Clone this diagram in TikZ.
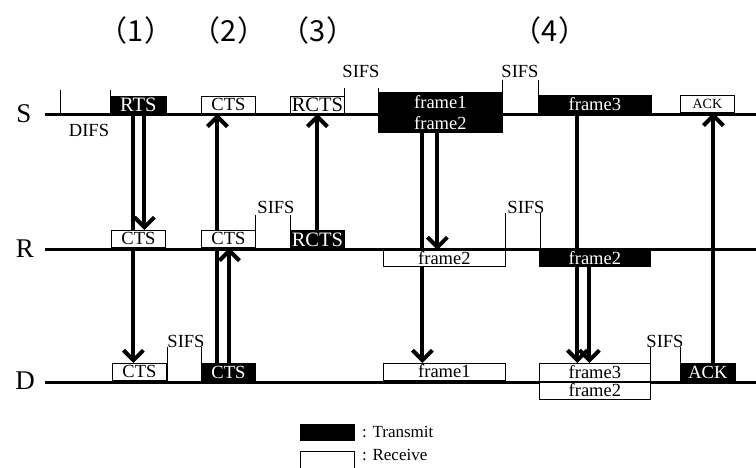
\documentclass[tikz,border=0pt]{standalone}
\usepackage{fontspec}
\setmainfont{Liberation Serif}
\newfontfamily\jpfont{Noto Sans CJK JP}
\usetikzlibrary{arrows.meta,backgrounds}
\begin{document}
\begin{tikzpicture}[x=1pt,y=-1pt,
  lane/.style={line width=3pt},
  tick/.style={line width=0.8pt},
  arr/.style={line width=4pt,-{Straight Barb[length=10pt,width=20pt]}},
  boxbase/.style={draw=black,line width=0.8pt,inner sep=0pt,anchor=north west,
    font=\fontsize{18.5}{18.5}\selectfont,text height=12pt,text depth=0pt},
  tx/.style={boxbase,fill=black,text=white},
  rx/.style={boxbase,fill=white,text=black},
  wide/.style={font=\fontsize{20.5}{20.5}\selectfont,text height=13pt},
  lbl/.style={font=\fontsize{18.5}{18.5}\selectfont,inner sep=0pt},
  leg/.style={font=\fontsize{17}{17}\selectfont,inner sep=0pt,anchor=west},
  big/.style={font=\fontsize{27}{27}\selectfont,inner sep=0pt},
  ttl/.style={font=\jpfont\fontsize{29}{29}\selectfont,inner sep=0pt}
]
\useasboundingbox (0,0) rectangle (756,467);

% titles
\node[ttl] (t1) at (136,30) {（1）};
\node[ttl] (t2) at (229,30) {（2）};
\node[ttl] (t3) at (318,30) {（3）};
\node[ttl] (t4) at (550,30) {（4）};

% lane labels
\node[big] (labS) at (24,114) {S};
\node[big] (labR) at (25,249) {R};
\node[big] (labD) at (25,381) {D};

% S boxes
\node[tx,wide,minimum width=56pt,minimum height=18pt] (rtsS) at (110,96) {RTS};
\node[rx,minimum width=54pt,minimum height=17pt] (ctsS) at (201,96) {CTS};
\node[rx,wide,minimum width=54pt,minimum height=17pt] (rctsS) at (290,96) {RCTS};
\node[tx,minimum width=124pt,minimum height=21pt] (f1S) at (378,92) {frame1};
\node[tx,minimum width=124pt,minimum height=18pt] (f2S) at (378,114) {frame2};
\node[tx,minimum width=113pt,minimum height=19pt] (f3S) at (538,95) {frame3};
\node[rx,minimum width=54pt,minimum height=17pt,font=\fontsize{14}{14}\selectfont,text height=9.5pt] (ackS) at (680,95) {ACK};

% R boxes
\node[rx,minimum width=54pt,minimum height=17pt] (ctsR1) at (111,230) {CTS};
\node[rx,minimum width=54pt,minimum height=17pt] (ctsR2) at (201,230) {CTS};
\node[tx,wide,minimum width=54pt,minimum height=19pt] (rctsR) at (290,230) {RCTS};
\node[rx,minimum width=122pt,minimum height=16pt] (f2Rw) at (383,250) {frame2};
\node[tx,minimum width=111pt,minimum height=16pt] (f2Rb) at (539,250) {frame2};

% D boxes
\node[rx,minimum width=54pt,minimum height=17pt] (ctsD1) at (112,363) {CTS};
\node[tx,minimum width=54pt,minimum height=19pt] (ctsD2) at (201,363) {CTS};
\node[rx,minimum width=122pt,minimum height=17pt] (f1D) at (383,363) {frame1};
\node[rx,minimum width=111pt,minimum height=18pt] (f3D) at (539,363) {frame3};
\node[rx,minimum width=111pt,minimum height=17pt] (f2D) at (539,382) {frame2};
\node[tx,minimum width=55pt,minimum height=19pt] (ackD) at (680,363) {ACK};

% interval ticks
\draw[tick] (60,90) -- (60,114) (110,90) -- (110,114);
\node[lbl] (difs) at (89,130) {DIFS};
\draw[tick] (344,88) -- (344,114) (378,88) -- (378,114);
\node[lbl] (sifs1) at (361,71) {SIFS};
\draw[tick] (502,80) -- (502,114) (538,80) -- (538,114);
\node[lbl] (sifs2) at (520,71) {SIFS};
\draw[tick] (255,215) -- (255,249) (290,215) -- (290,249);
\node[lbl] (sifs3) at (276,207) {SIFS};
\draw[tick] (505,213) -- (505,249) (540,213) -- (540,249);
\node[lbl] (sifs4) at (526,207) {SIFS};
\draw[tick] (167,347) -- (167,382) (201,347) -- (201,382);
\node[lbl] (sifs5) at (186,341) {SIFS};
\draw[tick] (650,347) -- (650,382) (680,347) -- (680,382);
\node[lbl] (sifs6) at (665,341) {SIFS};

% legend
\node[tx,minimum width=54pt,minimum height=16pt] (legT) at (300,424) {};
\node[leg] (legTt) at (362,432) {: Transmit};
\node[rx,minimum width=54pt,minimum height=19pt] (legR) at (300,451) {};
\node[leg] (legRt) at (362,455) {: Receive};

\begin{scope}[on background layer]
  % lanes
  \coordinate (S0) at (45,114); \coordinate (S1) at (756,114);
  \coordinate (R0) at (45,249); \coordinate (R1) at (756,249);
  \coordinate (D0) at (45,382); \coordinate (D1) at (756,382);
  \draw[lane] (S0) -- (S1);
  \draw[lane] (R0) -- (R1);
  \draw[lane] (D0) -- (D1);
  % arrows
  \draw[arr] ([xshift=-5pt]rtsS.south) -- ([xshift=-5pt]rtsS.south |- ctsD1.north);
  \draw[arr] ([xshift=6pt]rtsS.south) -- ([xshift=6pt]rtsS.south |- ctsR1.north);
  \draw[arr] ([xshift=-11pt]ctsD2.north) -- ([xshift=-11pt]ctsD2.north |- ctsS.south);
  \draw[arr] ([xshift=1pt]ctsD2.north) -- ([xshift=1pt]ctsD2.north |- ctsR2.south);
  \draw[arr] (rctsR.north) -- (rctsR.north |- rctsS.south);
  \draw[arr] ([xshift=-18pt]f2S.south) -- ([xshift=-18pt]f2S.south |- f1D.north);
  \draw[arr] ([xshift=-3pt]f2S.south) -- ([xshift=-3pt]f2S.south |- f2Rw.north);
  \draw[arr] ([xshift=-17.5pt]f3S.south) -- ([xshift=-17.5pt]f3S.south |- f3D.north);
  \draw[arr] ([xshift=-5.5pt]f2Rb.south) -- ([xshift=-5.5pt]f2Rb.south |- f3D.north);
  \draw[arr] ([xshift=5.5pt]ackD.north) -- ([xshift=5.5pt]ackD.north |- ackS.south);
\end{scope}
\end{tikzpicture}
\end{document}
